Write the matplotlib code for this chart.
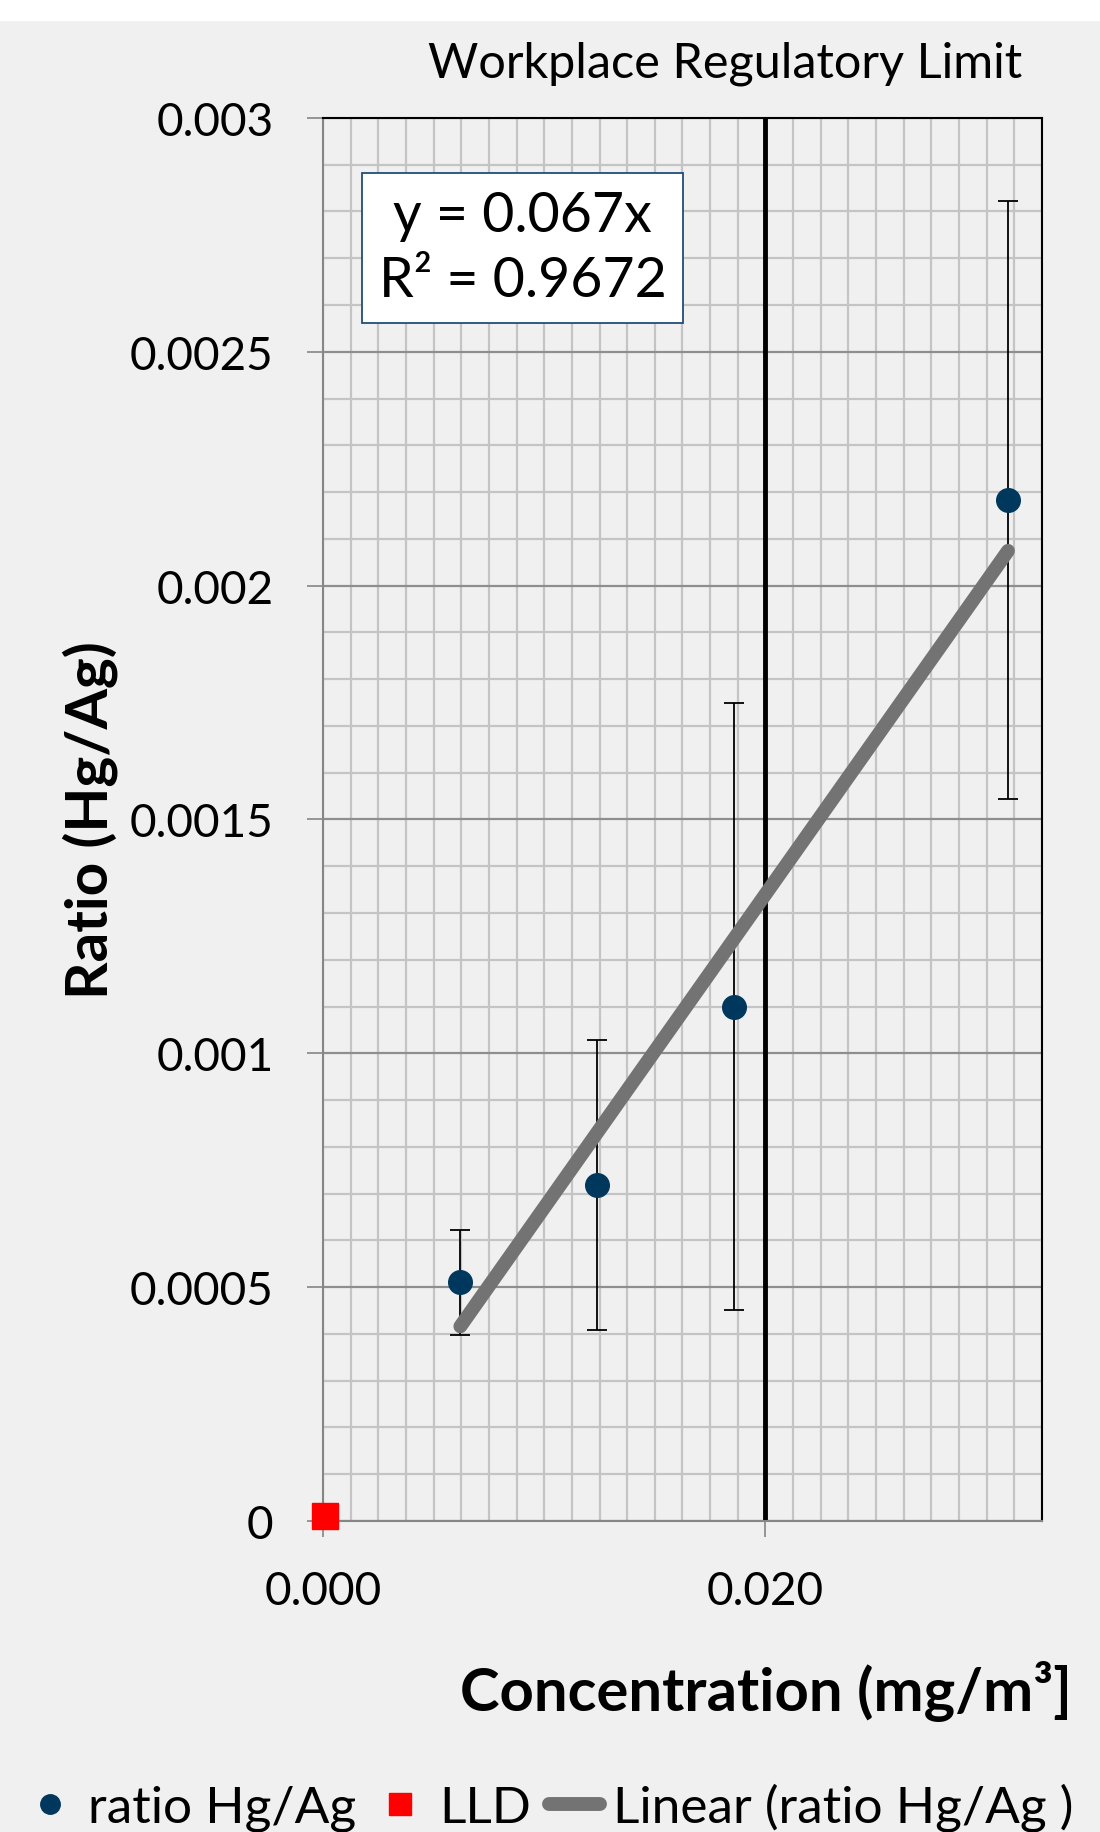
import matplotlib
matplotlib.use("Agg")
import matplotlib.pyplot as plt
from matplotlib.lines import Line2D
from matplotlib.patches import Rectangle
from matplotlib.ticker import MultipleLocator
import numpy as np

# Measured Hg/Ag ratios against air concentration
conc = [0.00621, 0.0124, 0.01858, 0.03096]
ratio = [0.000510, 0.000719, 0.00110, 0.002183]
ratio_err = [0.000112, 0.00031, 0.00065, 0.00064]

# Lower limit of detection
lld_conc = [0.0001]
lld_ratio = [0.00001]

# Linear fit through origin
slope = 0.067
r_squared = 0.9672

# Workplace regulatory limit (mg/m3)
limit_conc = 0.020

y_ticks = [0, 0.0005, 0.001, 0.0015, 0.002, 0.0025, 0.003]
y_tick_labels = ["0", "0.0005", "0.001", "0.0015", "0.002", "0.0025", "0.003"]
x_ticks = [0.0, 0.020]
x_tick_labels = ["0.000", "0.020"]


def main():
    plt.rcParams["font.family"] = ["Lato", "DejaVu Sans"]
    bg = "#f0f0f0"
    fig = plt.figure(figsize=(11, 18.33), dpi=100, facecolor=bg)
    fig.patches.append(Rectangle((0, 1 - 21 / 1833), 1, 21 / 1833,
                                 transform=fig.transFigure, color="white", zorder=0))

    ax = fig.add_axes([0.2936, 0.1697, 0.9473 - 0.2936, 0.9351 - 0.1697])
    ax.set_facecolor(bg)
    ax.set_xlim(0, 0.0325)
    ax.set_ylim(0, 0.003)

    # Grid
    ax.set_xticks(x_ticks)
    ax.set_xticklabels(x_tick_labels)
    ax.set_yticks(y_ticks)
    ax.set_yticklabels(y_tick_labels)
    ax.xaxis.set_minor_locator(MultipleLocator(0.00125))
    ax.yaxis.set_minor_locator(MultipleLocator(0.0001))
    ax.grid(which="minor", color="#c4c4c4", lw=1.6, zorder=0)
    ax.grid(which="major", axis="x", color="#c4c4c4", lw=1.6, zorder=0)
    ax.grid(which="major", axis="y", color="#8e8e8e", lw=1.6, zorder=0)
    ax.set_axisbelow(True)
    ax.tick_params(which="minor", length=0)
    ax.tick_params(which="major", direction="out", length=11.5, width=1.2,
                   color="#868686", labelsize=33)
    ax.tick_params(axis="y", pad=24)
    ax.tick_params(axis="x", pad=24)

    for side in ["left", "bottom"]:
        ax.spines[side].set_color("#868686")
        ax.spines[side].set_linewidth(1.5)
    for side in ["top", "right"]:
        ax.spines[side].set_color("black")
        ax.spines[side].set_linewidth(1.5)

    # Regulatory limit line
    ax.axvline(limit_conc, color="black", lw=3.5, zorder=2)
    ax.text(0.559, 1.039, "Workplace Regulatory Limit", transform=ax.transAxes,
            ha="center", va="center", fontsize=35)

    # Data with error bars
    ax.errorbar(conc, ratio, yerr=ratio_err, fmt="none", ecolor="black",
                elinewidth=1.3, capsize=7, capthick=1.3, zorder=3)
    ax.plot(conc, ratio, "o", color="#00385d", markersize=17, zorder=5)

    # Trendline
    fit_x = np.array([conc[0], conc[-1]])
    ax.plot(fit_x, slope * fit_x, color="#737373", lw=10,
            solid_capstyle="round", zorder=4)

    # LLD marker
    ax.plot(lld_conc, lld_ratio, "s", color="#ff0000", markersize=19,
            clip_on=False, zorder=6)

    # Equation box
    ax.text(0.278, 0.9075, f"y = {slope}x\nR² = {r_squared}", transform=ax.transAxes,
            ha="center", va="center", fontsize=40, linespacing=1.35,
            bbox=dict(boxstyle="square,pad=0.3", fc="white", ec="#1f4e79", lw=1.3),
            zorder=7)

    ax.set_ylabel("Ratio (Hg/Ag)", fontsize=42, fontweight="bold")
    ax.yaxis.set_label_coords(-0.285, 0.5)
    ax.set_xlabel("Concentration (mg/m³]", fontsize=43, fontweight="bold")
    ax.xaxis.set_label_coords(1.042, -0.099)
    ax.xaxis.label.set_ha("right")

    handles = [
        Line2D([], [], ls="none", marker="o", color="#00385d", markersize=14),
        Line2D([], [], ls="none", marker="s", color="#ff0000", markersize=16),
        Line2D([], [], color="#737373", lw=10, solid_capstyle="round"),
    ]
    labels = ["ratio Hg/Ag", "LLD", "Linear (ratio Hg/Ag )"]
    fig.legend(handles, labels, loc="center left", bbox_to_anchor=(0.022, 0.0136),
               ncol=3, frameon=False, fontsize=37, handlelength=1.0,
               handletextpad=0.25, columnspacing=0.35, borderaxespad=0,
               borderpad=0)

    fig.savefig("out.png", dpi=100, facecolor=bg)


if __name__ == "__main__":
    main()
